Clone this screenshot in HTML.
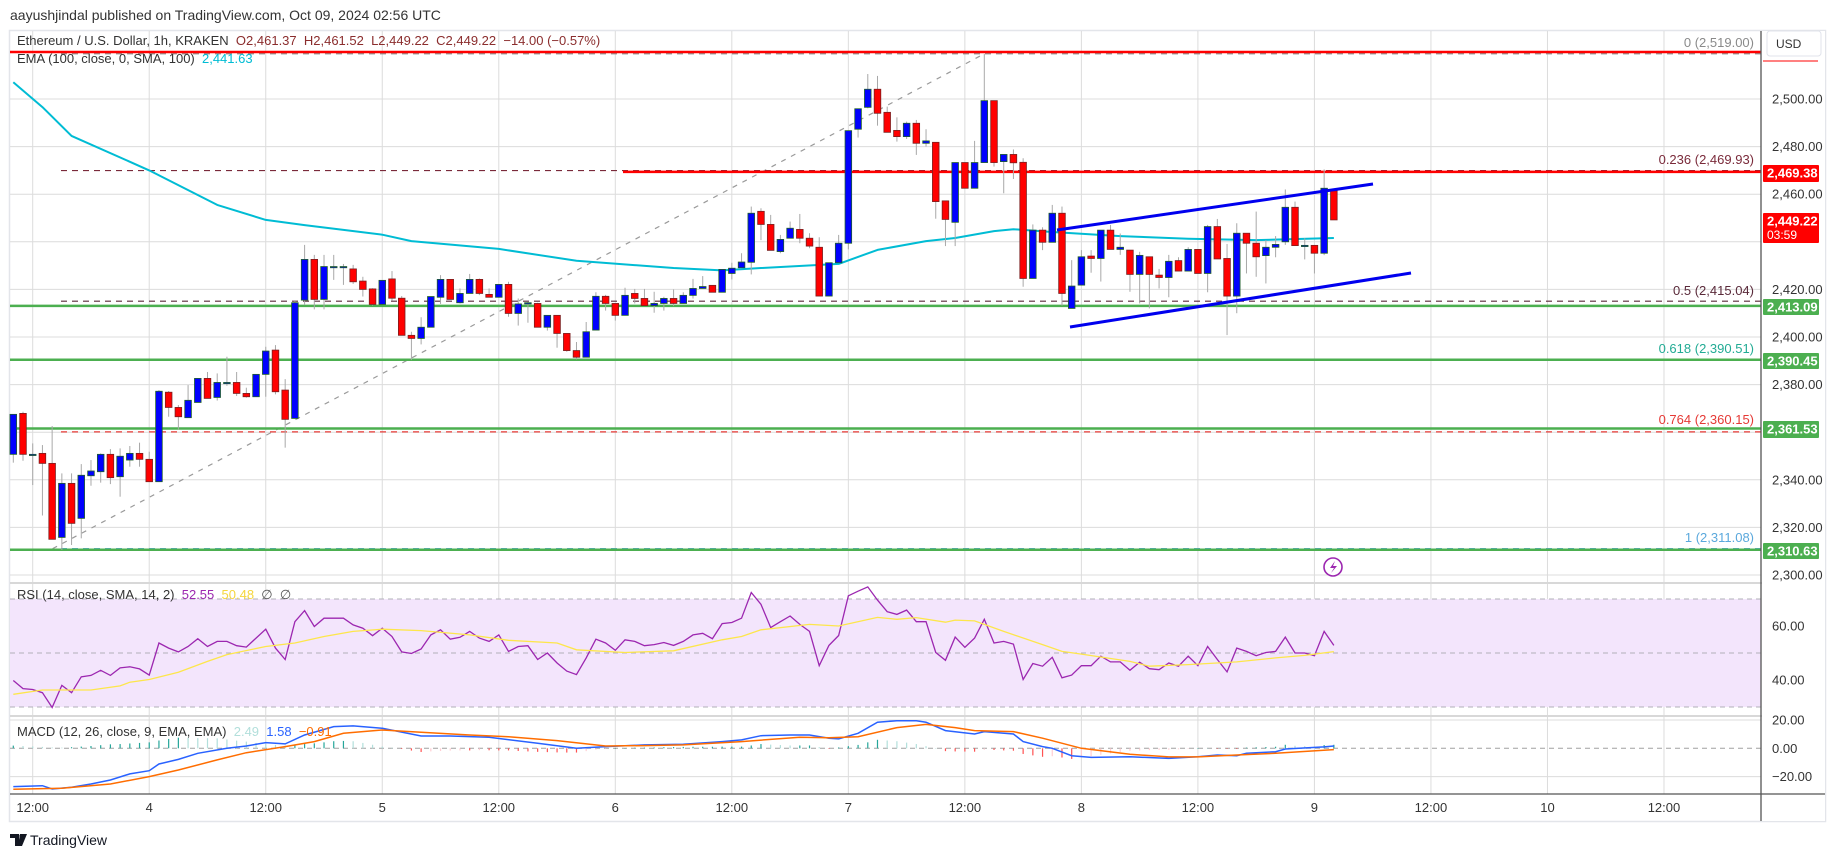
<!DOCTYPE html>
<html><head><meta charset="utf-8">
<style>
html,body{margin:0;padding:0;background:#fff;}
body{width:1835px;height:857px;overflow:hidden;font-family:"Liberation Sans",sans-serif;}
svg text{font-family:"Liberation Sans",sans-serif;}
</style></head>
<body>
<svg id="chart" width="1835" height="857" viewBox="0 0 1835 857" xmlns="http://www.w3.org/2000/svg">
  <rect x="0" y="0" width="1835" height="857" fill="#fff"/>
  <text x="10" y="20" font-size="14" fill="#333">aayushjindal published on TradingView.com, Oct 09, 2024 02:56 UTC</text>
  <rect x="9.5" y="30.5" width="1816" height="791" fill="#fff" stroke="#e3e5ea" stroke-width="1.5"/>
  <g id="grid"></g>
  <g id="rsiBand"></g>
  <g id="levels"></g>
  <g id="ema"></g>
  <g id="candles"></g>
  <g id="trend"></g>
  <g id="rsi"></g>
  <g id="macd"></g>
  <g id="axes"></g>
  <g id="labels"></g>
</svg>
<script>
// ---- data ----
const opens=[2350.7,2367.9,2350.7,2351.1,2346.9,2315.8,2338.5,2323.8,2341.7,2343.4,
2350.7,2341.3,2348.3,2351.1,2348.6,2339.2,2376.8,2370.4,2366.1,2372.5,
2382.6,2374.6,2380.9,2380.9,2376.3,2374.9,2384.3,2394.5,2377.7,2365.8,
2415.5,2432.6,2415.8,2429.6,2429.6,2428.6,2423.5,2420.2,2413.7,2424.4,
2416.3,2400.7,2399.4,2404.1,2416.7,2424.2,2414.4,2418.3,2424.2,2417.9,
2416.7,2422.1,2409.9,2413.9,2414.1,2404.1,2409.1,2401.5,2394.3,2391.5,
2402.9,2417.1,2414.1,2409.1,2418.3,2416.2,2413.2,2414.1,2416.2,2414.1,
2417.5,2420.4,2421.7,2418.8,2426.7,2429.1,2431.4,2452.8,2447.3,2435.9,
2441.5,2445.2,2441.5,2437.7,2417.2,2431.2,2439.4,2487.3,2496.5,2504.1,
2494.4,2486.8,2484.2,2489.8,2481.4,2481.8,2457.2,2448.2,2473.3,2462.5,
2473.3,2499.3,2473.7,2476.7,2473.4,2424.6,2444.9,2439.8,2452.0,2412.0,
2421.8,2434.0,2433.0,2444.9,2436.8,2436.5,2426.3,2433.7,2426.0,2425.0,
2432.1,2427.7,2436.8,2426.7,2446.4,2433.0,2417.2,2443.6,2439.4,2434.2,
2437.7,2440.0,2454.5,2438.5,2438.5,2435.2,2461.4];
const closes=[2367.5,2350.7,2350.7,2346.9,2315.0,2338.5,2321.7,2341.9,2343.7,2350.7,
2340.9,2349.9,2351.1,2348.6,2339.2,2377.2,2370.4,2366.5,2373.4,2382.6,
2374.2,2380.9,2380.9,2376.3,2374.9,2384.3,2394.1,2377.0,2365.4,2414.4,
2432.6,2415.8,2429.6,2429.6,2429.6,2423.2,2420.0,2413.7,2423.8,2416.3,
2400.7,2399.4,2404.1,2417.0,2424.2,2415.8,2418.3,2424.2,2418.3,2416.7,
2422.1,2409.9,2413.9,2414.4,2404.1,2409.1,2401.5,2394.3,2391.5,2402.2,
2417.1,2414.1,2409.1,2417.5,2416.2,2413.2,2414.1,2416.2,2414.1,2417.5,
2420.4,2421.2,2418.8,2428.4,2428.9,2431.5,2452.0,2447.3,2436.4,2441.0,
2445.7,2441.5,2438.2,2417.2,2431.2,2439.4,2486.7,2495.9,2504.1,2494.0,
2486.0,2484.2,2489.8,2481.4,2482.4,2456.9,2449.4,2473.3,2462.5,2473.3,
2499.3,2473.3,2476.7,2473.2,2424.6,2444.9,2439.8,2452.0,2418.3,2421.4,
2433.7,2433.0,2444.9,2436.8,2437.7,2426.3,2434.3,2426.3,2425.0,2431.8,
2427.7,2436.8,2426.7,2446.4,2432.8,2417.2,2443.6,2439.4,2433.7,2437.7,
2438.9,2454.5,2438.4,2438.5,2435.2,2462.5,2449.2];
const highs=[2367.5,2368.6,2355.3,2354.6,2362.6,2342.7,2342.7,2346.6,2348.3,2351.1,
2352.9,2353.2,2354.2,2355.6,2351.8,2377.7,2377.3,2371.4,2379.8,2382.6,
2385.3,2384.7,2391.7,2385.3,2378.7,2384.3,2395.9,2396.6,2382.3,2415.1,
2438.7,2434.5,2434.5,2434.5,2430.7,2430.3,2425.3,2420.5,2423.8,2427.7,
2417.2,2402.2,2408.3,2417.0,2426.0,2424.2,2420.4,2426.5,2424.6,2420.4,
2422.1,2423.2,2416.2,2414.8,2414.4,2409.1,2409.1,2401.5,2397.9,2406.3,
2418.8,2417.7,2414.1,2420.7,2420.2,2420.2,2419.0,2416.9,2420.0,2418.8,
2424.4,2425.6,2421.7,2428.4,2431.2,2435.2,2454.8,2454.1,2451.3,2442.9,
2448.5,2451.7,2443.6,2441.9,2431.2,2442.9,2486.7,2495.9,2510.5,2509.7,
2496.8,2492.3,2490.5,2491.2,2487.3,2481.8,2457.2,2473.3,2473.3,2482.4,
2518.9,2499.3,2476.7,2478.8,2475.1,2447.3,2446.1,2455.5,2454.8,2432.3,
2436.5,2436.5,2444.9,2447.1,2443.5,2436.5,2435.8,2433.7,2428.6,2434.5,
2433.5,2437.7,2436.8,2447.1,2449.6,2439.1,2447.8,2443.6,2452.7,2440.7,
2442.4,2462.0,2456.9,2441.5,2438.5,2470.4,2461.5];
const lows=[2347.2,2348.0,2337.8,2325.0,2315.0,2310.5,2312.6,2315.4,2337.5,2338.8,
2338.2,2332.9,2345.5,2345.5,2339.2,2339.2,2366.5,2361.2,2366.1,2372.5,
2374.2,2373.3,2379.5,2375.2,2374.5,2374.9,2374.9,2375.9,2353.5,2365.8,
2413.4,2411.6,2411.6,2424.0,2421.9,2422.3,2417.0,2413.2,2413.7,2415.3,
2400.7,2390.3,2396.9,2404.1,2413.9,2415.8,2414.1,2418.3,2417.6,2416.7,
2416.7,2408.5,2404.8,2406.0,2404.1,2402.7,2395.5,2393.8,2390.6,2391.5,
2402.9,2411.1,2406.9,2409.1,2414.1,2413.2,2410.2,2411.1,2413.0,2414.1,
2416.2,2420.4,2418.8,2418.8,2424.2,2429.1,2426.3,2440.7,2436.4,2435.2,
2441.5,2439.4,2437.3,2417.2,2417.2,2431.2,2436.8,2483.8,2496.1,2488.8,
2486.0,2482.1,2483.2,2476.5,2480.0,2449.7,2438.2,2438.2,2462.5,2462.5,
2473.3,2471.6,2460.4,2466.4,2421.1,2424.6,2436.5,2439.8,2413.2,2412.0,
2421.8,2427.0,2423.3,2436.8,2434.5,2419.0,2414.1,2412.0,2420.4,2416.7,
2427.7,2427.7,2426.7,2418.8,2432.8,2400.8,2410.0,2426.7,2425.3,2422.5,
2433.5,2438.7,2438.4,2432.6,2426.7,2434.4,2449.2];
const emaIdx=[0,3,6,14,21,26,30,34,38,41,50,58,68,73,77,85,89,94,97,101,103,107,114,121,128,136];
const emaVal=[2507,2496.6,2484.5,2470,2455.5,2449.2,2447,2445,2443,2440.3,2437,2432,2429,2428,2429,2430.7,2436.6,2440.3,2441.6,2444.5,2445.3,2444.1,2442.4,2441.3,2440.7,2441.6];
const rsiVals=[39.8,36.8,36.5,35.3,29.8,38.0,35.3,41.2,41.7,43.6,41.7,44.5,44.9,44.1,41.8,53.7,51.8,50.4,52.4,55.3,
52.4,54.3,54.3,52.7,52.2,55.5,58.8,51.8,47.6,61.6,65.7,59.8,62.9,62.9,62.9,60.4,59.2,56.4,59.2,56.1,
50.4,49.8,51.5,56.7,58.6,55.1,55.8,58.0,55.5,54.3,56.7,50.6,52.4,52.7,47.6,50.0,46.3,43.3,42.0,48.2,
55.1,53.7,51.0,54.9,54.3,52.7,53.1,53.9,52.8,
54.3,56.7,57.3,55.3,60.9,61.3,62.9,72.4,68.0,59.4,61.6,63.7,60.6,58.0,45.3,52.8,56.5,71.2,72.9,74.5,
69.6,65.3,64.3,65.9,61.6,61.6,50.2,47.3,55.9,52.1,55.5,62.5,53.7,54.3,53.3,40.2,46.1,45.1,48.4,40.8,
41.8,45.3,45.3,48.8,46.7,46.7,43.6,46.6,44.2,43.8,46.3,45.1,48.8,45.3,52.4,47.6,43.0,51.8,50.6,49.0,
50.2,50.6,55.9,50.0,50.0,49.0,58.0,52.8];
const rsiSmaIdx=[0,3,8,11,12,14,17,20,22,26,29,32,35,38,42,47,51,56,58,63,68,73,75,77,82,85,89,91,93,96,97,99,102,106,108,110,115,117,121,126,130,133,136];
const rsiSmaVal=[34.7,36.3,36.3,37.8,39.2,40.2,42.9,46.9,49.4,52.4,53.7,56.1,58.0,58.8,58.3,56.7,54.7,53.7,51.2,50.2,50.8,54.9,56.1,58.6,60.6,60.0,63.2,62.5,63.1,61.4,62.2,61.9,58.0,53.1,50.6,49.6,46.9,45.1,45.7,46.7,48.2,49.1,50.5];
const macdIdx=[0,3,4,6,8,10,12,14,15,17,19,22,24,26,28,30,33,35,38,42,45,49,54,58,61,65,69,73,75,77,80,82,84,85,87,89,91,93,94,96,99,100,103,104,106,107,109,111,115,119,122,124,126,127,130,131,135,136];
const macdVal=[-27,-26.4,-28.7,-27.5,-25.2,-22.4,-18.1,-15.8,-11.1,-7.8,-3.5,0,1.6,4.0,3.1,9.4,15.3,15.8,14.1,8.7,8.7,7.8,3.5,0,1.2,2.4,2.8,4.7,5.9,8.9,9.4,9.4,7.1,6.6,10.6,18.4,19.5,19.5,18.4,12.5,10.1,11.8,10.1,4.7,1.2,0,-5.2,-6.4,-5.9,-7.1,-5.9,-4.7,-5.2,-3.5,-2.4,-0.5,1.0,1.6];
const sigIdx=[0,5,10,14,17,21,24,28,31,34,38,42,47,51,56,61,65,69,75,81,84,87,91,94,97,99,103,106,110,115,119,122,126,130,136];
const sigVal=[-28.9,-28.2,-25.2,-20.0,-15.3,-8.2,-3.1,1.2,4.7,10.6,12.9,11.3,9.4,8.2,5.4,1.6,1.9,2.4,4.7,7.8,7.5,8.2,14.6,16.9,14.6,12.5,11.8,7.1,0,-4.2,-6.1,-6.1,-4.7,-3.5,-0.9];
const histVals=[1.9,1.6,1.3,1.0,0.6,0.5,0.8,1.2,1.6,2.2,
2.8,3.0,3.4,3.8,4.2,5.5,6.6,7.5,7.4,7.2,
7.1,7.0,6.2,5.4,4.7,3.8,3.0,2.4,1.9,2.5,
3.0,3.5,4.2,5.0,5.2,5.0,3.8,2.5,1.2,0.4,
-0.5,-1.6,-2.6,-2.2,-1.9,-1.6,-1.5,-1.5,-1.3,-1.4,
-1.5,-1.5,-1.9,-2.2,-2.5,-2.7,-2.9,-3.0,-3.0,-2.0,
-1.0,-0.4,0.0,0.2,0.4,0.5,0.6,0.8,0.9,1.0,
1.1,1.1,1.1,1.2,1.2,1.2,2.0,3.0,2.6,2.3,
2.0,2.0,2.0,0.8,-0.4,0.6,1.5,2.4,4.2,6.0,
5.5,5.0,4.0,3.0,1.5,0.0,-2.0,-2.2,-2.3,-2.4,
-1.0,-1.2,-1.5,-1.7,-4.0,-5.0,-6.0,-5.6,-6.5,-7.5,
-6.4,-5.6,-4.6,-3.6,-2.6,-1.7,-1.5,-1.3,-1.1,-1.0,
-0.7,-0.4,0.2,0.0,-0.2,-0.4,-0.5,0.5,0.7,0.9,
1.1,2.5,1.8,1.5,1.2,2.3,2.5];
const priceTicks=[2300,2320,2340,2360,2380,2400,2420,2440,2460,2480,2500];
const priceTickLabels=["2,300.00","2,320.00","2,340.00","","2,380.00","2,400.00","2,420.00","","2,460.00","2,480.00","2,500.00"];
const timeTickHours=[0,12,24,36,48,60,72,84,96,108,120,132,144,156,168];
const timeTickLabels=["12:00","4","12:00","5","12:00","6","12:00","7","12:00","8","12:00","9","12:00","10","12:00"];
const fibLevels=[2519.00,2469.93,2415.04,2390.51,2360.15,2311.08];
const fibNames=["0","0.236","0.5","0.618","0.764","1"];
const hLines=[2469.38,2413.09,2390.45,2361.53,2310.63];

// ---- scales ----
const NS="http://www.w3.org/2000/svg";
const X0=10,XR=1761;
function xOf(i){return 13.3+9.71*i;}
function xOfHour(h){return 32.7+9.71*h;}
function yP(p){return 99+(2500-p)*2.38;}
function yR(v){return 653-(v-50)*2.7;}
function yM(v){return 748.3-v*1.417;}
function el(tag,attrs,parent){const e=document.createElementNS(NS,tag);for(const k in attrs)e.setAttribute(k,attrs[k]);parent.appendChild(e);return e;}
function fmt(v){return v.toLocaleString('en-US',{minimumFractionDigits:2,maximumFractionDigits:2});}

// ---- grid ----
const grid=document.getElementById('grid');
timeTickHours.forEach(h=>{const x=xOfHour(h);
  const g=el('line',{x1:x,x2:x,y1:31,y2:794,stroke:'#dcdcdc','stroke-width':1},grid);
  
  });
priceTicks.forEach(p=>{const y=yP(p);
  const g=el('line',{x1:X0,x2:XR,y1:y,y2:y,stroke:'#dcdcdc','stroke-width':1},grid);
  
  });
[60,40].forEach(v=>{el('line',{x1:X0,x2:XR,y1:yR(v),y2:yR(v),stroke:'#d4c8dc','stroke-width':1},grid);});
[20,-20].forEach(v=>{el('line',{x1:X0,x2:XR,y1:yM(v),y2:yM(v),stroke:'#dcdcdc','stroke-width':1},grid);});
[583,716].forEach(y=>{const s=el('line',{x1:X0,x2:1825,y1:y,y2:y,stroke:'#d8d8d8','stroke-width':2},grid);
  
  });

// ---- RSI band ----
const band=document.getElementById('rsiBand');
el('rect',{x:X0,y:yR(70),width:XR-X0,height:yR(30)-yR(70),fill:'#f3e5fc'},band);
[70,50,30].forEach(v=>el('line',{x1:X0,x2:XR,y1:yR(v),y2:yR(v),stroke:'#b0b0b8','stroke-dasharray':'5,4','stroke-width':1},band));
el('line',{x1:X0,x2:XR,y1:yM(0),y2:yM(0),stroke:'#a0a0a0','stroke-dasharray':'5,4','stroke-width':1},band);

// ---- levels ----
const lv=document.getElementById('levels');
const fd=el('line',{x1:xOf(4)+0.5,y1:yP(2311.08),x2:xOf(100),y2:yP(2519),stroke:'#9a9a9a','stroke-width':1.2,'stroke-dasharray':'5,6'},lv);


const fibColors=['#8a8a8a','#7a2a3a','#5a2a3a','#22ab94','#e53935','#5aa8dc'];
fibLevels.forEach((p,k)=>{const y=yP(p);
  const d=el('line',{x1:61,x2:XR,y1:y,y2:y,stroke:fibColors[k],'stroke-width':1.2,'stroke-dasharray':'6,5'},lv);
  
  });
const tr=el('line',{x1:X0,x2:XR,y1:52,y2:52,stroke:'#ff0000','stroke-width':2.5},lv);


hLines.forEach((p,k)=>{const y=yP(p);
  const isRed=k===0;
  const l=el('line',{x1:isRed?623:X0,x2:XR,y1:y,y2:y,stroke:isRed?'#ff0000':'#4caf50','stroke-width':2.5},lv);
  
  });

// ---- EMA ----
const emaG=document.getElementById('ema');
const emaPath=el('polyline',{points:emaIdx.map((i,k)=>xOf(i)+','+yP(emaVal[k]).toFixed(1)).join(' '),fill:'none',stroke:'#00bcd4','stroke-width':2,'stroke-linejoin':'round'},emaG);



// ---- candles ----
const cg=document.getElementById('candles');
opens.forEach((o,i)=>{const c=closes[i],x=xOf(i);
  const w=el('line',{x1:x,x2:x,y1:yP(highs[i]),y2:yP(lows[i]),stroke:'#a8a8a8','stroke-width':1},cg);
  
  
  const up=c>=o;
  const top=yP(Math.max(o,c)),bot=yP(Math.min(o,c));
  const h=Math.max(bot-top,1.2);
  const b=el('rect',{x:x-3.3,y:top,width:6.6,height:h,fill:up?'#0000ff':'#ff0000',stroke:up?'#1f5e2a':'#7a1f1f','stroke-width':0.8},cg);
  
  });

// ---- trend channel ----
const tg=document.getElementById('trend');
const t1=el('line',{x1:1057,y1:230,x2:1373,y2:184,stroke:'#0000ee','stroke-width':3},tg);


const t2=el('line',{x1:1070,y1:327,x2:1411,y2:273,stroke:'#0000ee','stroke-width':3},tg);



// ---- RSI ----
const rg=document.getElementById('rsi');
const rl=el('polyline',{points:rsiVals.map((v,i)=>xOf(i)+','+yR(v).toFixed(1)).join(' '),fill:'none',stroke:'#9c27b0','stroke-width':1.3},rg);


const rs=el('polyline',{points:rsiSmaIdx.map((i,k)=>xOf(i)+','+yR(rsiSmaVal[k]).toFixed(1)).join(' '),fill:'none',stroke:'#fde64b','stroke-width':1.3},rg);



// ---- MACD ----
const mg=document.getElementById('macd');
histVals.forEach((v,i)=>{const prev=i>0?histVals[i-1]:v;
  let col=v>=0?(v>=prev?'#26a69a':'#b2dfdb'):(v<=prev?'#ff5252':'#ffcdd2');
  const y0=yM(0),y1=yM(v);
  const b=el('rect',{x:xOf(i)-0.6,y:Math.min(y0,y1),width:1.2,height:Math.max(Math.abs(y1-y0),0.5),fill:col},mg);
  
  });
const ml=el('polyline',{points:macdIdx.map((i,k)=>xOf(i)+','+yM(macdVal[k]).toFixed(1)).join(' '),fill:'none',stroke:'#2962ff','stroke-width':1.5},mg);


const sl=el('polyline',{points:sigIdx.map((i,k)=>xOf(i)+','+yM(sigVal[k]).toFixed(1)).join(' '),fill:'none',stroke:'#ff6d00','stroke-width':1.5},mg);



// ---- axes ----
const ax=document.getElementById('axes');
el('rect',{x:1762,y:31,width:63,height:790,fill:'#fff'},ax);
el('line',{x1:1761,x2:1761,y1:31,y2:821,stroke:'#555','stroke-width':1.3},ax);
el('line',{x1:X0,x2:1825,y1:794,y2:794,stroke:'#555','stroke-width':1.3},ax);
priceTicks.forEach((p,k)=>{if(!priceTickLabels[k])return;
  const t=el('text',{x:1772,y:yP(p)+4.5,'font-size':13,fill:'#333'},ax);t.textContent=priceTickLabels[k];
  
  });
[[60,'60.00'],[40,'40.00']].forEach(([v,s])=>{const t=el('text',{x:1772,y:yR(v)+4.5,'font-size':13,fill:'#333'},ax);t.textContent=s;});
[[20,'20.00'],[0,'0.00'],[-20,'\u221220.00']].forEach(([v,s])=>{const t=el('text',{x:1772,y:yM(v)+4.5,'font-size':13,fill:'#333'},ax);t.textContent=s;});
timeTickHours.forEach((h,k)=>{const t=el('text',{x:xOfHour(h),y:812,'font-size':13,fill:'#333','text-anchor':'middle'},ax);t.textContent=timeTickLabels[k];
  
  });
function box(p,col,label,y0,h,sub){
  const g=el('g',{},ax);
  
  
  el('rect',{x:1763,y:y0,width:56,height:h,fill:col,rx:1},g);
  const t=el('text',{x:1767,y:y0+12.5,'font-size':13,'font-weight':'bold',fill:'#fff'},g);t.textContent=label;
  if(sub){const s=el('text',{x:1767,y:y0+26,'font-size':12,fill:'#fff'},g);s.textContent=sub;}
}
box(2469.38,'#ff0000','2,469.38',165,17);
box(2449.22,'#ff0000','2,449.22',213,30,'03:59');
box(2413.09,'#4caf50','2,413.09',299,16);
box(2390.45,'#4caf50','2,390.45',353,16);
box(2361.53,'#4caf50','2,361.53',421,17);
box(2310.63,'#4caf50','2,310.63',543,16);
const ub=el('rect',{x:1767,y:31,width:54,height:25,rx:3,fill:'#fff',stroke:'#e0e3eb'},ax);


const ut=el('text',{x:1776,y:48,'font-size':12,fill:'#333'},ax);ut.textContent='USD';
el('line',{x1:1763,x2:1818,y1:61,y2:61,stroke:'#ff0000','stroke-width':1},ax);

// ---- labels ----
const lb=document.getElementById('labels');
const fibLblY=[43,160,291,349,420,538];
fibLevels.forEach((p,k)=>{const t=el('text',{x:1754,y:fibLblY[k]+4,'font-size':13,fill:fibColors[k],'text-anchor':'end'},lb);
  t.textContent=fibNames[k]+' ('+fmt(p)+')';
  
  });
const li=el('g',{},lb);


el('circle',{cx:1333,cy:567,r:9,fill:'#fff',stroke:'#9c27b0','stroke-width':1.6},li);
el('path',{d:'M1335 561 L1330 568 L1334 568 L1331 573 L1337 566 L1333 566 Z',fill:'#9c27b0'},li);
const lg=el('g',{},lb);


el('path',{d:'M10 834 H19 V846 H15 V838 H10 Z M20 834 H27 L22 846 H18 Z',fill:'#131722'},lg);
el('circle',{cx:21,cy:836,r:1.6,fill:'#131722'},lg);
const lt=el('text',{x:30,y:845,'font-size':14,fill:'#131722'},lg);lt.textContent='TradingView';
</script>
<div style="position:absolute;left:17px;top:33px;font-size:13px;color:#333;white-space:pre;font-family:'Liberation Sans',sans-serif;">Ethereum / U.S. Dollar, 1h, KRAKEN  <span style="color:#8b2d2d">O2,461.37  H2,461.52  L2,449.22  C2,449.22  −14.00 (−0.57%)</span></div>
<div style="position:absolute;left:17px;top:51px;font-size:13px;color:#333;white-space:pre;font-family:'Liberation Sans',sans-serif;">EMA (100, close, 0, SMA, 100)  <span style="color:#00bcd4">2,441.63</span></div>
<div style="position:absolute;left:17px;top:587px;font-size:13px;color:#333;white-space:pre;font-family:'Liberation Sans',sans-serif;">RSI (14, close, SMA, 14, 2)  <span style="color:#9c27b0">52.55</span>  <span style="color:#f5d63d">50.48</span>  <span style="color:#555">∅  ∅</span></div>
<div style="position:absolute;left:17px;top:724px;font-size:13px;color:#333;white-space:pre;font-family:'Liberation Sans',sans-serif;">MACD (12, 26, close, 9, EMA, EMA)  <span style="color:#b2dfdb">2.49</span>  <span style="color:#2962ff">1.58</span>  <span style="color:#ff6d00">−0.91</span></div>
</body></html>
